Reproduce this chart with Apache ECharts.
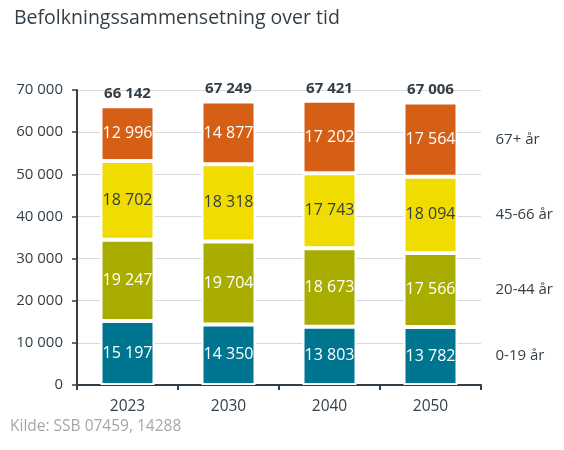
<!DOCTYPE html>
<html>
<head>
<meta charset="utf-8">
<script src="https://cdn.jsdelivr.net/npm/echarts@6/dist/echarts.min.js"></script>
<style>
html,body{margin:0;padding:0;background:#fff;}
#chart{width:564px;height:450px;}
</style>
</head>
<body>
<div id="chart"></div>
<script>
const categories = ['2023', '2030', '2040', '2050'];
const seriesNames = ['0-19 år', '20-44 år', '45-66 år', '67+ år'];
const age0_19 = [15197, 14350, 13803, 13782];
const age20_44 = [19247, 19704, 18673, 17566];
const age45_66 = [18702, 18318, 17743, 18094];
const age67 = [12996, 14877, 17202, 17564];
const totals = [66142, 67249, 67421, 67006];
const yTicks = [0, 10000, 20000, 30000, 40000, 50000, 60000, 70000];

const colors = ['#00758f', '#a8ad00', '#f0dc00', '#d45f15'];
const labelColors = ['#ffffff', '#ffffff', '#333f48', '#ffffff'];
const textColor = '#333f48';
const font = '"Open Sans", "Noto Sans", sans-serif';

function fmt(v) { return String(v).replace(/\B(?=(\d{3})+(?!\d))/g, ' '); }

const values = [age0_19, age20_44, age45_66, age67];
const series = values.map((arr, i) => {
  const last = arr.length - 1;
  let base = 0;
  for (let k = 0; k < i; k++) base += values[k][last];
  return {
    name: seriesNames[i],
    type: 'bar',
    stack: 'total',
    barWidth: 54,
    data: arr,
    itemStyle: { color: colors[i], borderColor: '#ffffff', borderWidth: 2 },
    label: {
      show: true, position: 'inside',
      color: labelColors[i], fontFamily: font, fontSize: 16,
      formatter: p => fmt(p.value)
    },
    markPoint: {
      symbol: 'circle', symbolSize: 0, silent: true,
      data: [{ coord: [categories[last], base + arr[last] / 2], name: seriesNames[i] }],
      label: {
        show: true, position: 'right', distance: 0, offset: [65, 0],
        color: textColor, fontFamily: font, fontSize: 15,
        formatter: p => p.name
      }
    }
  };
});
series.push({
  name: 'total', type: 'bar', stack: 'total', barWidth: 54,
  data: totals.map(() => 0),
  itemStyle: { color: 'transparent' },
  label: {
    show: true, position: 'top', distance: 5,
    color: textColor, fontFamily: font, fontSize: 15, fontWeight: 'bold',
    formatter: p => fmt(totals[p.dataIndex])
  }
});

const chart = echarts.init(document.getElementById('chart'), null, { renderer: 'canvas' });
chart.setOption({
  animation: false,
  title: {
    text: 'Befolkningssammensetning over tid',
    left: 9, top: 3,
    textStyle: { color: textColor, fontFamily: font, fontSize: 19.5, fontWeight: 'normal' }
  },
  graphic: [{
    type: 'text', left: 10, top: 419,
    style: { text: 'Kilde: SSB 07459, 14288', fill: '#a6a6a6', font: '15.5px ' + font }
  }],
  grid: { left: 77, top: 90, width: 404, height: 295, containLabel: false },
  xAxis: {
    type: 'category', data: categories,
    axisLine: { lineStyle: { color: textColor, width: 2 } },
    axisTick: { show: true, length: 5, lineStyle: { color: textColor, width: 2 } },
    axisLabel: { color: textColor, fontFamily: font, fontSize: 15.5, margin: 14 }
  },
  yAxis: {
    type: 'value', min: yTicks[0], max: yTicks[yTicks.length - 1], interval: 10000,
    axisLine: { show: true, lineStyle: { color: textColor, width: 2 } },
    axisTick: { show: true, length: 5, lineStyle: { color: textColor, width: 1.5 } },
    splitLine: { lineStyle: { color: '#d9d9d9', width: 1 } },
    axisLabel: { color: textColor, fontFamily: font, fontSize: 15, margin: 14, formatter: v => fmt(v) }
  },
  series: series
});
</script>
</body>
</html>
